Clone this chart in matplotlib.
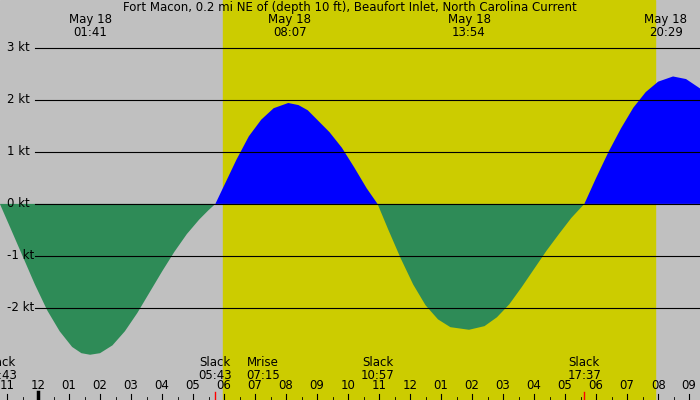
import numpy as np
import matplotlib
matplotlib.use("Agg")
import matplotlib.pyplot as plt

# hours after midnight May 18, current in knots
times = [-1.23, -0.9, -0.5, -0.1, 0.3, 0.7, 1.1, 1.4, 1.68, 2.0, 2.4, 2.8, 3.2, 3.6, 4.0, 4.4, 4.8, 5.2, 5.5, 5.72,
         6.0, 6.4, 6.8, 7.2, 7.6, 8.07, 8.4, 8.7, 9.0, 9.4, 9.8, 10.2, 10.6, 10.95,
         11.3, 11.7, 12.1, 12.5, 12.9, 13.3, 13.9, 14.4, 14.8, 15.2, 15.6, 16.0, 16.4, 16.8, 17.2, 17.62,
         18.0, 18.4, 18.8, 19.2, 19.6, 20.0, 20.48, 20.9, 21.4]
speed = [0.0, -0.45, -1.0, -1.55, -2.05, -2.45, -2.75, -2.87, -2.9, -2.87, -2.72, -2.45, -2.1, -1.7, -1.3, -0.92, -0.58, -0.3, -0.12, 0.0,
         0.35, 0.85, 1.3, 1.62, 1.84, 1.94, 1.9, 1.8, 1.62, 1.38, 1.08, 0.7, 0.3, 0.0,
         -0.5, -1.05, -1.55, -1.95, -2.22, -2.37, -2.42, -2.35, -2.18, -1.93, -1.6, -1.25, -0.9, -0.58, -0.27, 0.0,
         0.5, 1.0, 1.45, 1.85, 2.15, 2.35, 2.45, 2.4, 2.2]
sunrise, sunset = 5.97, 19.9
peaks = [(1.68, "01:41"), (8.12, "08:07"), (13.9, "13:54"), (20.25, "20:29")]
events = [(-1.23, "Slack", "22:43"), (5.72, "Slack", "05:43"), (7.25, "Mrise", "07:15"),
          (10.95, "Slack", "10:57"), (17.62, "Slack", "17:37")]
hour_labels = ["11", "12", "01", "02", "03", "04", "05", "06", "07", "08", "09", "10",
               "11", "12", "01", "02", "03", "04", "05", "06", "07", "08", "09"]

fig = plt.figure(figsize=(7, 4), dpi=100)
ax = fig.add_axes([0, 0, 1, 1])
x0, x1 = -1.226, 21.35
y0, y1 = -3.77, 3.92
ax.set_xlim(x0, x1); ax.set_ylim(y0, y1)
ax.axis("off")
ax.axvspan(x0, x1, color="#c0c0c0", zorder=0)
ax.axvspan(sunrise, sunset, color="#cccc00", zorder=0)

t = np.array(times); v = np.array(speed)
ax.fill_between(t, v, 0, where=v >= 0, color="#0000ff", lw=0, zorder=2, interpolate=True)
ax.fill_between(t, v, 0, where=v <= 0, color="#2e8b57", lw=0, zorder=2, interpolate=True)

for k in range(-2, 4):
    ax.plot([-0.1, x1], [k, k], color="black", lw=0.8, zorder=3)
    ax.text(-1.0, k, f"{k} kt", ha="left", va="center", fontsize=8.5, zorder=4)

ax.text((x0 + x1) / 2, 3.78, "Fort Macon, 0.2 mi NE of (depth 10 ft), Beaufort Inlet, North Carolina Current",
        ha="center", va="center", fontsize=8.5)
for tp, lab in peaks:
    ax.text(tp, 3.42, f"May 18\n{lab}", ha="center", va="center", fontsize=8.5, linespacing=0.95)
for tp, a, b in events:
    ax.text(tp, -3.17, f"{a}\n{b}", ha="center", va="center", fontsize=8.5, linespacing=0.95)

for i, lab in enumerate(hour_labels):
    h = i - 1
    ax.text(h, -3.5, lab, ha="center", va="center", fontsize=8.5)
    ax.plot([h, h], [y0, y0 + 0.12], color="black", lw=0.8)
    ax.plot([h + 0.5, h + 0.5], [y0, y0 + 0.05], color="black", lw=0.6)
ax.plot([0, 0], [y0, y0 + 0.15], color="black", lw=2.5)
for s in (5.72, 17.62):
    ax.plot([s, s], [y0, y0 + 0.15], color="red", lw=1)

fig.savefig("out.png", dpi=100)
